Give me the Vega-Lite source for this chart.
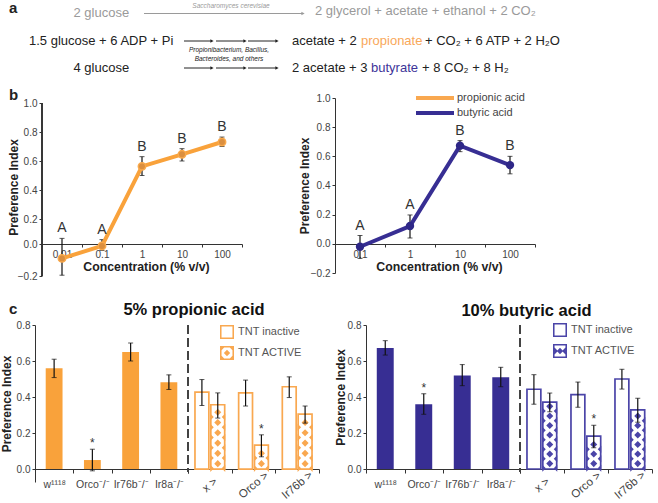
{
"$schema":"https://vega.github.io/schema/vega-lite/v6.json",
"background":"white","padding":0,"spacing":0,
"resolve":{"scale":{"color":"independent","shape":"independent"},"legend":{"color":"independent","shape":"independent"}},
"config":{"font":"Liberation Sans","view":{"stroke":null},
"axis":{"grid":false,"domainColor":"#333","tickColor":"#333","labelColor":"#444","labelFontSize":10,"tickSize":3,"labelPadding":2,"titleFontSize":12,"titleFontWeight":"bold","titleColor":"#222","labelOverlap":false,"labelFlush":false}},
"datasets":{
"aText":[
{"x":72.5,"y":13,"label":"2 glucose","tone":"gray"},
{"x":314,"y":11,"label":"2 glycerol + acetate + ethanol + 2 CO₂","tone":"gray"},
{"x":28,"y":41,"label":"1.5 glucose + 6 ADP + Pi","tone":"black"},
{"x":291,"y":41,"label":"acetate + 2","tone":"black"},
{"x":360,"y":41,"label":"propionate","tone":"orange"},
{"x":424,"y":41,"label":"+ CO₂ + 6 ATP + 2 H₂O","tone":"black"},
{"x":72.5,"y":68,"label":"4 glucose","tone":"black"},
{"x":291,"y":68,"label":"2 acetate + 3","tone":"black"},
{"x":370,"y":68,"label":"butyrate","tone":"blue"},
{"x":421,"y":68,"label":"+ 8 CO₂ + 8 H₂","tone":"black"}],
"aSmall":[
{"x":230,"y":6,"label":"Saccharomyces cerevisiae","tone":"gray"},
{"x":228,"y":50,"label":"Propionibacterium, Bacillus,","tone":"black"},
{"x":228,"y":59,"label":"Bacteroides, and others","tone":"black"}],
"aArrows":[
{"x":143,"x2":302,"y":13.5,"tone":"gray"},
{"x":183,"x2":211,"y":41,"tone":"black"},{"x":215,"x2":244,"y":41,"tone":"black"},{"x":247,"x2":276,"y":41,"tone":"black"},
{"x":183,"x2":211,"y":68,"tone":"black"},{"x":215,"x2":244,"y":68,"tone":"black"},{"x":247,"x2":276,"y":68,"tone":"black"}],
"aLetters":[{"x":8,"y":7.5,"label":"a"}],
"hText":[{"x":193,"y":29,"label":"5% propionic acid"},{"x":525.5,"y":30,"label":"10% butyric acid"}],
"hLetters":[{"x":8,"y":28,"label":"c"}],
"b1":[
{"conc":"0.01","value":-0.09,"low":-0.195,"high":0.045,"letter":"A","series":"propionic acid"},
{"conc":"0.1","value":-0.012,"low":-0.04,"high":0.035,"letter":"A","series":"propionic acid"},
{"conc":"1","value":0.563,"low":0.5,"high":0.63,"letter":"B","series":"propionic acid"},
{"conc":"10","value":0.646,"low":0.6,"high":0.685,"letter":"B","series":"propionic acid"},
{"conc":"100","value":0.731,"low":0.7,"high":0.765,"letter":"B","series":"propionic acid"}],
"b2":[
{"conc":"0.1","value":-0.02,"low":-0.1,"high":0.057,"letter":"A","series":"butyric acid"},
{"conc":"1","value":0.122,"low":0.04,"high":0.198,"letter":"A","series":"butyric acid"},
{"conc":"10","value":0.673,"low":0.632,"high":0.708,"letter":"B","series":"butyric acid"},
{"conc":"100","value":0.54,"low":0.48,"high":0.6,"letter":"B","series":"butyric acid"}],
"c1L":[
{"g":"w¹¹¹⁸","value":0.56,"low":0.508,"high":0.61},
{"g":"Orco⁻/⁻","value":0.05,"low":-0.01,"high":0.11,"star":"*"},
{"g":"Ir76b⁻/⁻","value":0.65,"low":0.6,"high":0.7},
{"g":"Ir8a⁻/⁻","value":0.482,"low":0.442,"high":0.523}],
"c1R":[
{"g":"x >","type":"TNT inactive","value":0.427,"low":0.353,"high":0.497},
{"g":"x >","type":"TNT ACTIVE","value":0.357,"low":0.283,"high":0.423},
{"g":"Orco >","type":"TNT inactive","value":0.423,"low":0.35,"high":0.494},
{"g":"Orco >","type":"TNT ACTIVE","value":0.133,"low":0.068,"high":0.19,"star":"*"},
{"g":"Ir76b >","type":"TNT inactive","value":0.457,"low":0.397,"high":0.512},
{"g":"Ir76b >","type":"TNT ACTIVE","value":0.305,"low":0.255,"high":0.35}],
"c1D":[
{"g":"x >","type":"TNT ACTIVE","level":0.03},{"g":"x >","type":"TNT ACTIVE","level":0.087},{"g":"x >","type":"TNT ACTIVE","level":0.144},{"g":"x >","type":"TNT ACTIVE","level":0.201},{"g":"x >","type":"TNT ACTIVE","level":0.258},{"g":"x >","type":"TNT ACTIVE","level":0.315},
{"g":"Orco >","type":"TNT ACTIVE","level":0.03},{"g":"Orco >","type":"TNT ACTIVE","level":0.087},
{"g":"Ir76b >","type":"TNT ACTIVE","level":0.03},{"g":"Ir76b >","type":"TNT ACTIVE","level":0.087},{"g":"Ir76b >","type":"TNT ACTIVE","level":0.144},{"g":"Ir76b >","type":"TNT ACTIVE","level":0.201},{"g":"Ir76b >","type":"TNT ACTIVE","level":0.258}],
"c2L":[
{"g":"w¹¹¹⁸","value":0.672,"low":0.633,"high":0.713},
{"g":"Orco⁻/⁻","value":0.36,"low":0.304,"high":0.418,"star":"*"},
{"g":"Ir76b⁻/⁻","value":0.52,"low":0.463,"high":0.58},
{"g":"Ir8a⁻/⁻","value":0.51,"low":0.457,"high":0.565}],
"c2R":[
{"g":"x >","type":"TNT inactive","value":0.443,"low":0.36,"high":0.524},
{"g":"x >","type":"TNT ACTIVE","value":0.372,"low":0.318,"high":0.422},
{"g":"Orco >","type":"TNT inactive","value":0.413,"low":0.343,"high":0.483},
{"g":"Orco >","type":"TNT ACTIVE","value":0.183,"low":0.118,"high":0.243,"star":"*"},
{"g":"Ir76b >","type":"TNT inactive","value":0.5,"low":0.444,"high":0.554},
{"g":"Ir76b >","type":"TNT ACTIVE","value":0.328,"low":0.26,"high":0.393}],
"c2D":[
{"g":"x >","type":"TNT ACTIVE","level":0.03},{"g":"x >","type":"TNT ACTIVE","level":0.083},{"g":"x >","type":"TNT ACTIVE","level":0.136},{"g":"x >","type":"TNT ACTIVE","level":0.189},{"g":"x >","type":"TNT ACTIVE","level":0.242},{"g":"x >","type":"TNT ACTIVE","level":0.295},{"g":"x >","type":"TNT ACTIVE","level":0.348},
{"g":"Orco >","type":"TNT ACTIVE","level":0.03},{"g":"Orco >","type":"TNT ACTIVE","level":0.083},{"g":"Orco >","type":"TNT ACTIVE","level":0.136},
{"g":"Ir76b >","type":"TNT ACTIVE","level":0.03},{"g":"Ir76b >","type":"TNT ACTIVE","level":0.083},{"g":"Ir76b >","type":"TNT ACTIVE","level":0.136},{"g":"Ir76b >","type":"TNT ACTIVE","level":0.189},{"g":"Ir76b >","type":"TNT ACTIVE","level":0.242},{"g":"Ir76b >","type":"TNT ACTIVE","level":0.295}],
"blank":[{"k":1}]
},
"vconcat":[
{"width":658,"height":88,
"encoding":{"x":{"field":"x","type":"quantitative","axis":null,"scale":{"domain":[0,658],"nice":false,"zero":false}},
"y":{"field":"y","type":"quantitative","axis":null,"scale":{"domain":[0,88],"reverse":true,"nice":false,"zero":false}}},
"layer":[
{"data":{"name":"aArrows"},"mark":{"type":"rule","strokeWidth":1},"encoding":{"x2":{"field":"x2"},"color":{"field":"tone","type":"nominal","legend":null,"scale":{"domain":["gray","black","orange","blue"],"range":["#9a9a9a","#222222","#F9A85A","#3D3499"]}}}},
{"data":{"name":"aArrows"},"mark":{"type":"point","filled":true,"shape":"triangle-right","size":14,"opacity":1},"encoding":{"x":{"field":"x2","type":"quantitative"},"color":{"field":"tone","type":"nominal","legend":null}}},
{"data":{"name":"aText"},"mark":{"type":"text","fontSize":13,"align":"left","baseline":"middle"},"encoding":{"text":{"field":"label"},"color":{"field":"tone","type":"nominal","legend":null}}},
{"data":{"name":"aSmall"},"mark":{"type":"text","fontSize":6.5,"fontStyle":"italic","align":"center","baseline":"middle"},"encoding":{"text":{"field":"label"},"color":{"field":"tone","type":"nominal","legend":null}}},
{"data":{"name":"aLetters"},"mark":{"type":"text","fontSize":15,"fontWeight":"bold","align":"left","baseline":"middle","color":"#222"},"encoding":{"text":{"field":"label"}}}
]},
{"spacing":0,"bounds":"flush","resolve":{"scale":{"color":"independent"},"legend":{"color":"independent"}},"hconcat":[
{"width":41,"height":1,"data":{"name":"blank"},"mark":{"type":"point","opacity":0},"encoding":{}},
{"width":200,"height":178,"data":{"name":"b1"},
"encoding":{"x":{"field":"conc","type":"nominal","sort":null,"title":"Concentration (% v/v)","scale":{"type":"band","padding":0,"domain":["0.01","0.1","1","10","100"]},"axis":{"tickBand":"extent","labelAngle":0,"offset":-32,"titlePadding":1,"titleFontSize":12.3,"titleX":104}}},
"layer":[
{"mark":{"type":"rule","color":"#333","strokeWidth":1},"encoding":{"x":{"datum":"0.01","type":"nominal","bandPosition":0},"y":{"datum":-0.2,"type":"quantitative","title":"Preference Index","axis":{"domain":false,"values":[-0.2,0,0.2,0.4,0.6,0.8,1],"tickCount":10,"format":".1f","titleX":-22,"labelOverlap":false}},"y2":{"datum":1}}},
{"mark":{"type":"errorbar","ticks":{"size":5,"color":"#111","strokeWidth":1.2},"rule":{"color":"#111","strokeWidth":1.2}},"encoding":{"y":{"field":"low","type":"quantitative","title":"Preference Index"},"y2":{"field":"high"}}},
{"mark":{"type":"line","color":"#F9A23B","strokeWidth":4},"encoding":{"y":{"field":"value","type":"quantitative","title":"Preference Index","scale":{"domain":[-0.2,0,0.2,1,1.0345],"range":[178,146,121,5,0]}}}},
{"mark":{"type":"point","filled":true,"color":"#DB8F3F","stroke":"#F9A94B","strokeWidth":1.5,"size":55,"opacity":1},"encoding":{"y":{"field":"value","type":"quantitative","title":"Preference Index"}}},
{"mark":{"type":"text","fontSize":14,"dy":-3,"baseline":"bottom","color":"#333"},"encoding":{"y":{"field":"high","type":"quantitative","title":"Preference Index"},"text":{"field":"letter"}}},
{"data":{"values":[{"label":"b"}]},"mark":{"type":"text","fontSize":15,"fontWeight":"bold","align":"left","baseline":"middle","dx":-33,"dy":-6,"color":"#222"},"encoding":{"x":{"datum":"0.01","type":"nominal","bandPosition":0},"y":{"datum":1.0345,"type":"quantitative"},"text":{"field":"label"}}}
]},
{"width":93,"height":1,"data":{"name":"blank"},"mark":{"type":"point","opacity":0},"encoding":{}},
{"width":200,"height":175,"data":{"name":"b2"},
"encoding":{"x":{"field":"conc","type":"nominal","sort":null,"title":"Concentration (% v/v)","scale":{"type":"band","padding":0,"domain":["0.1","1","10","100"]},"axis":{"tickBand":"extent","labelAngle":0,"offset":-29,"titlePadding":1,"titleFontSize":12.3,"titleX":104}}},
"layer":[
{"mark":{"type":"errorbar","ticks":{"size":5,"color":"#111","strokeWidth":1.2},"rule":{"color":"#111","strokeWidth":1.2}},"encoding":{"y":{"field":"low","type":"quantitative","title":"Preference  Index","axis":{"values":[-0.2,0,0.2,0.4,0.6,0.8,1],"tickCount":10,"format":".1f","titleX":-24,"labelOverlap":false}},"y2":{"field":"high"}}},
{"mark":{"type":"line","strokeWidth":4},"encoding":{"y":{"field":"value","type":"quantitative","title":"Preference  Index","scale":{"domain":[-0.2,1],"nice":false,"zero":false}},
"color":{"field":"series","type":"nominal","scale":{"domain":["propionic acid","butyric acid"],"range":["#F9A850","#372E93"]},
"legend":{"orient":"none","legendX":93,"legendY":-7,"title":null,"symbolType":"M-3.8,0H3.8","symbolSize":100,"symbolStrokeWidth":4,"labelOffset":15,"labelFontSize":11,"labelColor":"#444","rowPadding":-2}}}},
{"mark":{"type":"point","filled":true,"color":"#2E2787","size":70,"opacity":1},"encoding":{"y":{"field":"value","type":"quantitative","title":"Preference  Index"}}},
{"mark":{"type":"text","fontSize":14,"dy":-3,"baseline":"bottom","color":"#333"},"encoding":{"y":{"field":"high","type":"quantitative","title":"Preference  Index"},"text":{"field":"letter"}}}
]}
]},
{"width":658,"height":39,
"encoding":{"x":{"field":"x","type":"quantitative","axis":null,"scale":{"domain":[0,658],"nice":false,"zero":false}},
"y":{"field":"y","type":"quantitative","axis":null,"scale":{"domain":[0,39],"reverse":true,"nice":false,"zero":false}}},
"layer":[
{"data":{"name":"hText"},"mark":{"type":"text","fontSize":16.5,"fontWeight":"bold","align":"center","baseline":"middle","color":"#111"},"encoding":{"text":{"field":"label"}}},
{"data":{"name":"hLetters"},"mark":{"type":"text","fontSize":15,"fontWeight":"bold","align":"left","baseline":"middle","color":"#222"},"encoding":{"text":{"field":"label"}}}
]},
{"spacing":0,"bounds":"flush","resolve":{"scale":{"shape":"independent"},"legend":{"shape":"independent"}},"hconcat":[
{"width":34,"height":1,"data":{"name":"blank"},"mark":{"type":"point","opacity":0},"encoding":{}},
{"width":153,"height":157,"data":{"name":"c1L"},
"encoding":{"x":{"field":"g","type":"nominal","sort":null,"title":null,"scale":{"type":"band","padding":0},"axis":{"tickBand":"extent","labelAngle":0,"offset":-13,"labelPadding":6,"labelFontSize":10.5,"tickSize":4}},
"y":{"field":"value","type":"quantitative","title":"Preference Index","scale":{"domain":[-0.072,0.8],"nice":false,"zero":false},"axis":{"values":[0,0.2,0.4,0.6,0.8],"tickCount":10,"format":".1f","titleX":-22}}},
"layer":[
{"mark":{"type":"bar","color":"#F9A23B","width":{"band":0.44}}},
{"mark":{"type":"errorbar","ticks":{"size":5,"color":"#111","strokeWidth":1.2},"rule":{"color":"#111","strokeWidth":1.2}},"encoding":{"y":{"field":"low","type":"quantitative","title":"Preference Index"},"y2":{"field":"high"}}},
{"transform":[{"filter":"datum.star"}],"mark":{"type":"text","fontSize":12,"dy":-2,"baseline":"alphabetic","color":"#333"},"encoding":{"y":{"field":"high","type":"quantitative","title":"Preference Index"},"text":{"field":"star"}}}
]},
{"width":131,"height":157,"data":{"name":"c1R"},
"encoding":{"x":{"field":"g","type":"nominal","sort":null,"title":null,"scale":{"type":"band","padding":0},"axis":{"tickBand":"extent","labelAngle":-40,"labelAlign":"center","labelBaseline":"middle","offset":-13,"labelPadding":12,"labelFontSize":11.5,"tickSize":4}},
"xOffset":{"field":"type","type":"nominal","sort":null,"scale":{"domain":["TNT inactive","TNT ACTIVE"],"paddingInner":0.125,"paddingOuter":0.44}},
"y":{"field":"value","type":"quantitative","axis":null,"scale":{"domain":[-0.072,0.8],"nice":false,"zero":false}}},
"layer":[
{"mark":{"type":"bar","fill":"white","stroke":"#F9A850","strokeWidth":1.7}},
{"data":{"name":"c1D"},"mark":{"type":"point","filled":true,"color":"#F9A850","opacity":1,"size":225,"strokeWidth":0,"shape":"M0,-0.47L0.47,0L0,0.47L-0.47,0Z M-1,0.16L-0.53,0.63L-1,1.1Z M1,0.16L0.53,0.63L1,1.1Z"},"encoding":{"y":{"field":"level","type":"quantitative","axis":null}}},
{"mark":{"type":"errorbar","ticks":{"size":5,"color":"#111","strokeWidth":1.2},"rule":{"color":"#111","strokeWidth":1.2}},"encoding":{"y":{"field":"low","type":"quantitative","axis":null},"y2":{"field":"high"}}},
{"transform":[{"filter":"datum.star"}],"mark":{"type":"text","fontSize":12,"dy":-2,"baseline":"alphabetic","color":"#333"},"encoding":{"y":{"field":"high","type":"quantitative","axis":null},"text":{"field":"star"}}},
{"mark":{"type":"rule","color":"#444","strokeWidth":1.3,"strokeDash":[9,4]},"encoding":{"x":{"datum":"x >","type":"nominal","bandPosition":0},"xOffset":null,"y":{"datum":0.8,"type":"quantitative"},"y2":{"datum":-0.017}}},
{"data":{"values":[]},"mark":{"type":"point","filled":true,"color":"#F9A850","opacity":1},"encoding":{"x":null,"xOffset":null,"y":null,"shape":{"field":"type","type":"nominal","scale":{"domain":["TNT inactive","TNT ACTIVE"],"range":["M-1,-1H1V1H-1Z M-0.78,-0.78V0.78H0.78V-0.78Z","M-1,-1H1V1H-1Z M-0.78,-0.78V0.78H0.78V-0.78Z M0,-0.45L0.45,0L0,0.45L-0.45,0Z M-0.78,-0.78L-0.4,-0.78L-0.78,-0.4Z M0.78,-0.78L0.78,-0.4L0.4,-0.78Z M-0.78,0.78L-0.78,0.4L-0.4,0.78Z M0.78,0.78L0.4,0.78L0.78,0.4Z"]},
"legend":{"orient":"none","legendX":32,"legendY":0,"title":null,"symbolSize":196,"symbolStrokeWidth":0,"symbolFillColor":"#F9A850","labelFontSize":11,"labelColor":"#555","labelOffset":4,"rowPadding":7}}}}
]},
{"width":47,"height":1,"data":{"name":"blank"},"mark":{"type":"point","opacity":0},"encoding":{}},
{"width":154,"height":144,"data":{"name":"c2L"},
"encoding":{"x":{"field":"g","type":"nominal","sort":null,"title":null,"scale":{"type":"band","padding":0},"axis":{"tickBand":"extent","labelAngle":0,"labelPadding":6,"labelFontSize":10.5,"tickSize":4}},
"y":{"field":"value","type":"quantitative","title":"Preference Index","scale":{"domain":[0,0.8],"nice":false,"zero":false},"axis":{"values":[0,0.2,0.4,0.6,0.8],"tickCount":10,"format":".1f","titleX":-19}}},
"layer":[
{"mark":{"type":"bar","color":"#372E93","width":{"band":0.44}}},
{"mark":{"type":"errorbar","ticks":{"size":5,"color":"#111","strokeWidth":1.2},"rule":{"color":"#111","strokeWidth":1.2}},"encoding":{"y":{"field":"low","type":"quantitative","title":"Preference Index"},"y2":{"field":"high"}}},
{"transform":[{"filter":"datum.star"}],"mark":{"type":"text","fontSize":12,"dy":-2,"baseline":"alphabetic","color":"#333"},"encoding":{"y":{"field":"high","type":"quantitative","title":"Preference Index"},"text":{"field":"star"}}}
]},
{"width":132,"height":144,"data":{"name":"c2R"},
"encoding":{"x":{"field":"g","type":"nominal","sort":null,"title":null,"scale":{"type":"band","padding":0},"axis":{"tickBand":"extent","labelAngle":-40,"labelAlign":"center","labelBaseline":"middle","labelPadding":12,"labelFontSize":11.5,"tickSize":4}},
"xOffset":{"field":"type","type":"nominal","sort":null,"scale":{"domain":["TNT inactive","TNT ACTIVE"],"paddingInner":0.125,"paddingOuter":0.44}},
"y":{"field":"value","type":"quantitative","axis":null,"scale":{"domain":[0,0.8],"nice":false,"zero":false}}},
"layer":[
{"mark":{"type":"bar","fill":"white","stroke":"#4B45A8","strokeWidth":1.7}},
{"data":{"name":"c2D"},"mark":{"type":"point","filled":true,"color":"#4B45A8","opacity":1,"size":225,"strokeWidth":0,"shape":"M0,-0.47L0.47,0L0,0.47L-0.47,0Z M-1,0.16L-0.53,0.63L-1,1.1Z M1,0.16L0.53,0.63L1,1.1Z"},"encoding":{"y":{"field":"level","type":"quantitative","axis":null}}},
{"mark":{"type":"errorbar","ticks":{"size":5,"color":"#111","strokeWidth":1.2},"rule":{"color":"#111","strokeWidth":1.2}},"encoding":{"y":{"field":"low","type":"quantitative","axis":null},"y2":{"field":"high"}}},
{"transform":[{"filter":"datum.star"}],"mark":{"type":"text","fontSize":12,"dy":-2,"baseline":"alphabetic","color":"#333"},"encoding":{"y":{"field":"high","type":"quantitative","axis":null},"text":{"field":"star"}}},
{"mark":{"type":"rule","color":"#444","strokeWidth":1.3,"strokeDash":[9,4]},"encoding":{"x":{"datum":"x >","type":"nominal","bandPosition":0},"xOffset":null,"y":{"datum":0.8,"type":"quantitative"},"y2":{"datum":-0.017}}},
{"data":{"values":[]},"mark":{"type":"point","filled":true,"color":"#4B45A8","opacity":1},"encoding":{"x":null,"xOffset":null,"y":null,"shape":{"field":"type","type":"nominal","scale":{"domain":["TNT inactive","TNT ACTIVE"],"range":["M-1,-1H1V1H-1Z M-0.78,-0.78V0.78H0.78V-0.78Z","M-1,-1H1V1H-1Z M-0.78,-0.78V0.78H0.78V-0.78Z M0,-0.45L0.45,0L0,0.45L-0.45,0Z M-0.78,-0.5L-0.3,0L-0.78,0.5Z M0.78,-0.5L0.78,0.5L0.3,0Z"]},
"legend":{"orient":"none","legendX":33,"legendY":-2,"title":null,"symbolSize":196,"symbolStrokeWidth":0,"symbolFillColor":"#4B45A8","labelFontSize":11,"labelColor":"#555","labelOffset":4,"rowPadding":7}}}}
]}
]}
]}
